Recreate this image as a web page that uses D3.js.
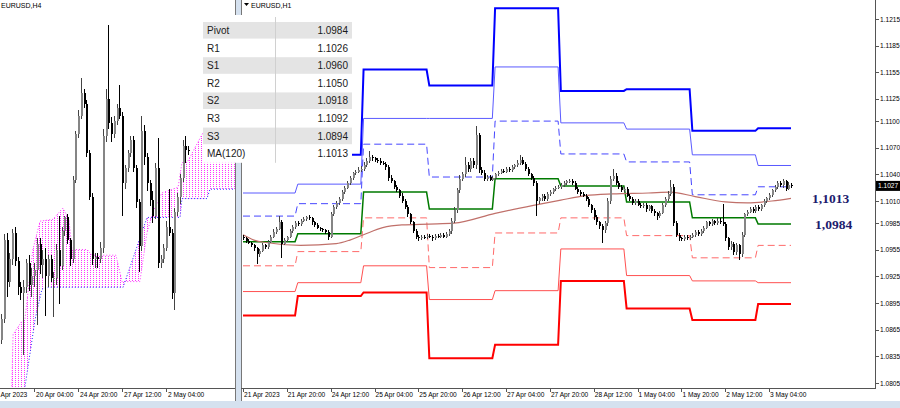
<!DOCTYPE html>
<html>
<head>
<meta charset="utf-8">
<script src="https://cdn.jsdelivr.net/npm/d3@7"></script>
<style>
	body { margin: 0; background: #fff; }
	svg { display: block; font-family: "Liberation Sans", Arial, sans-serif; }
</style>
</head>
<body>
<div id="chart"></div>
<script>
"use strict";

//  H1 closes, one row per trading day (21 Apr 04:00 .. 3 May 12:00)
const h1Close = [
	1.0968,1.0965,1.0963,1.0960,1.0957,1.0950,1.0954,1.0960,1.0958,1.0964,1.0970,1.0975,1.0979,1.0986,1.0962,1.0966,1.0969,1.0976,1.0981,1.0985,
	1.0984,1.0988,1.0990,1.0992,1.0991,1.0986,1.0983,1.0980,1.0978,1.0977,1.0975,1.0970,1.0995,1.1003,1.1008,1.1012,1.1020,1.1025,1.1030,1.1036,1.1041,1.1043,1.1045,1.1046,
	1.1050,1.1055,1.1060,1.1058,1.1056,1.1055,1.1053,1.1052,1.1048,1.1036,1.1032,1.1026,1.1022,1.1016,1.1010,1.1003,1.0995,1.0986,1.0976,1.0970,1.0968,1.0970,1.0969,1.0971,
	1.0970,1.0968,1.0971,1.0970,1.0972,1.0970,1.0973,1.0976,1.0988,1.1000,1.1022,1.1035,1.1040,1.1050,1.1046,1.1055,1.1050,1.1084,1.1045,1.1042,1.1035,1.1037,1.1034,1.1036,
	1.1040,1.1042,1.1044,1.1043,1.1046,1.1045,1.1048,1.1050,1.1053,1.1056,1.1052,1.1046,1.1040,1.1036,1.1030,1.1010,1.1013,1.1016,1.1012,1.1018,1.1020,1.1023,1.1025,1.1026,
	1.1028,1.1030,1.1032,1.1033,1.1030,1.1024,1.1020,1.1018,1.1016,1.1012,1.1005,1.1000,1.0992,1.0986,1.0982,1.0977,1.0985,1.1010,1.1035,1.1038,1.1030,1.1026,1.1022,1.1024,
	1.1016,1.1012,1.1008,1.1010,1.1006,1.1004,1.1006,1.1001,1.1004,1.0999,1.0996,1.0993,1.0997,1.1005,1.1012,1.1018,1.1026,1.0985,1.0972,1.0968,1.0967,1.0970,1.0968,1.0970,
	1.0972,1.0975,1.0973,1.0976,1.0980,1.0986,1.0984,1.0987,1.0985,1.0988,1.0986,1.0984,1.0968,1.0958,1.0962,1.0952,1.0960,1.0950,1.0972,1.0995,1.0998,1.1001,1.0999,1.1003,
	1.1001,1.1005,1.1010,1.1013,1.1017,1.1022,1.1026,1.1030,1.1028,1.1032,1.1024,1.1028,1.1027
];
const h1FirstOpen = 1.0970;
//  wick lengths above / below the body, in pips
const h1Up = [
	2,1,2,1,2,1,2,3,2,2,2,3,2,7,3,2,2,3,2,2,
	3,2,2,1,2,1,2,2,1,2,1,2,3,2,2,2,2,2,3,2,2,2,3,3,
	4,3,6,2,2,2,3,2,2,2,3,2,2,2,3,2,2,2,2,2,2,2,2,2,
	2,2,2,2,2,2,2,3,3,3,3,4,3,10,4,3,3,10,3,3,3,2,2,2,
	2,2,2,2,2,2,2,2,3,6,3,2,2,2,2,2,2,2,2,2,2,2,2,2,
	2,2,2,2,2,2,2,2,2,2,2,2,2,2,2,2,3,3,3,8,3,2,2,2,
	2,2,2,2,2,2,2,2,2,2,2,2,2,3,3,3,8,3,2,2,2,2,2,2,
	2,2,2,2,2,2,2,3,2,3,3,21,2,2,3,2,3,2,3,2,2,2,2,2,
	2,2,2,2,2,2,2,3,3,3,2,3,2
];
const h1Dn = [
	2,2,1,2,3,11,3,2,2,2,1,2,2,2,16,2,2,1,2,2,
	2,2,2,2,2,3,2,2,2,2,2,4,2,2,2,2,2,2,2,2,2,2,2,2,
	2,2,2,3,2,2,2,2,3,3,2,2,2,3,2,2,3,2,2,3,3,2,2,2,
	2,3,2,2,2,2,2,2,3,3,3,3,3,3,3,3,3,4,3,3,3,2,2,2,
	2,2,2,2,2,2,2,2,2,2,2,2,2,2,3,17,3,3,2,2,2,2,2,2,
	2,2,2,2,2,2,2,2,2,2,2,3,3,3,3,14,3,3,3,3,2,2,2,2,
	2,2,2,2,2,2,2,3,2,3,3,4,2,2,2,2,2,3,3,3,2,2,2,2,
	2,2,2,2,2,2,2,2,2,2,2,2,3,3,3,3,3,7,3,2,2,2,2,2,
	2,2,2,2,2,2,2,2,2,3,3,2,2
];

//  daily pivot levels, first H1 bar of each day
const dayStart = [0, 20, 44, 68, 92, 116, 140, 164, 188];
const lastBar = 200;
const r3 = [null,   1.1062, 1.1158, 1.1140, 1.1227, 1.1134, 1.1136, 1.1089, 1.1092];
const r2 = [1.1019, 1.1029, 1.1103, 1.1103, 1.1161, 1.1098, 1.1091, 1.1062, 1.1050];
const r1 = [1.0993, 1.1007, 1.1074, 1.1037, 1.1100, 1.1063, 1.1054, 1.1017, 1.1026];
const pivot = [1.0964, 1.0973, 1.1020, 1.1001, 1.1035, 1.1027, 1.1009, 1.0991, 1.0984];
const s1 = [1.0937, 1.0953, 1.0991, 1.0935, 1.0974, 1.0991, 1.0971, 1.0946, 1.0960];
const s2 = [1.0908, 1.0918, 1.0937, 1.0899, 1.0909, 1.0956, 1.0926, 1.0920, 1.0918];
const s3 = [1.0881, 1.0903, 1.0907, 1.0833, 1.0848, 1.0920, 1.0889, 1.0876, 1.0894];

//  MA(120) read at [bar, price]
const maPoints = [
	[0, 1.0972], [4, 1.0966], [9, 1.0963], [21, 1.0960], [34, 1.0962], [39, 1.0966], [44, 1.0972],
	[51, 1.0980], [58, 1.0983], [68, 1.0984], [77, 1.0985], [92, 1.0996], [106, 1.1005], [116, 1.1011],
	[125, 1.1016], [135, 1.1018], [148, 1.1019], [156, 1.1020], [165, 1.1015], [176, 1.1009],
	[184, 1.1008], [193, 1.1010], [200, 1.1013]
];

const h1Ticks = [
	[0, '21 Apr 2023'], [16, '21 Apr 20:00'], [32, '24 Apr 12:00'], [48, '25 Apr 04:00'], [64, '25 Apr 20:00'],
	[80, '26 Apr 12:00'], [96, '27 Apr 04:00'], [112, '27 Apr 20:00'], [128, '28 Apr 12:00'], [144, '1 May 04:00'],
	[160, '1 May 20:00'], [176, '2 May 12:00'], [192, '3 May 04:00']
];
const priceTicks = [1.0805, 1.0835, 1.0865, 1.0895, 1.0925, 1.0955, 1.0985, 1.1010, 1.1040, 1.1070, 1.1100, 1.1125, 1.1155, 1.1185, 1.1215];
const lastPrice = 1.1027;

//  H4 bars before 21 Apr 04:00 (index 1..18); later bars come from the H1 rows
const h4EarlyOpen  = [1.0927,1.0938,1.0980,1.0958,1.0970,1.0984,1.0969,1.0955,1.0952,1.0955,1.0968,1.0956,1.0961,1.0964,1.0978,1.0967,1.0970,1.0961];
const h4EarlyHigh  = [1.0941,1.0983,1.0984,1.0973,1.0986,1.0987,1.0971,1.0958,1.0959,1.0970,1.0972,1.0965,1.0968,1.0981,1.0981,1.0975,1.0976,1.0972];
const h4EarlyLow   = [1.0925,1.0936,1.0950,1.0955,1.0967,1.0966,1.0951,1.0948,1.0919,1.0952,1.0953,1.0950,1.0955,1.0935,1.0962,1.0960,1.0940,1.0955];
const h4EarlyClose = [1.0938,1.0980,1.0958,1.0970,1.0984,1.0969,1.0955,1.0952,1.0955,1.0968,1.0956,1.0961,1.0964,1.0978,1.0967,1.0970,1.0961,1.0970];
const h4Ticks = [[13, '20 Apr 04:00'], [29, '24 Apr 20:00'], [45, '27 Apr 12:00'], [61, '2 May 04:00']];
const h4FirstLabel = 'Apr 2023';

//  Ichimoku spans on the H4 chart, [bar, price]
const spanA = [
	[4.6, 1.0885], [5.4, 1.0930], [8.6, 1.0937], [9.7, 1.0938], [12.6, 1.0975], [15.2, 1.0990], [19.9, 1.0991],
	[23.5, 1.0997], [25.7, 1.0991], [26.8, 1.0975], [32.3, 1.0975], [34.1, 1.0972], [42.8, 1.0972], [45, 1.0958],
	[51.5, 1.0958], [54.1, 1.0984], [56.3, 1.0995], [59.5, 1.1005], [65.4, 1.1008], [66.8, 1.1021], [69, 1.1022],
	[74.5, 1.1037], [75.5, 1.1028], [76.6, 1.1022], [88, 1.1022]
];
const spanB = [
	[8.6, 1.0885], [9.7, 1.0902], [13.4, 1.0938], [15.9, 1.0954], [17.7, 1.0955], [45.4, 1.0955], [54.1, 1.0992],
	[66.1, 1.0992], [66.8, 1.1002], [75.9, 1.1002], [77, 1.1007], [88, 1.1007]
];

const tableRows = [['Pivot', '1.0984'], ['R1', '1.1026'], ['S1', '1.0960'], ['R2', '1.1050'], ['S2', '1.0918'], ['R3', '1.1092'], ['S3', '1.0894'], ['MA(120)', '1.1013']];
const notes = [['1,1013', 1.1013], ['1,0984', 1.0984]];


const width = 900, height = 408, pip = 0.0001;
const svg = d3.select('#chart').append('svg').attr('width', width).attr('height', height);

const h1 = h1Close.map((c, i) => {
	const o = i ? h1Close[i - 1] : h1FirstOpen;
	return { i, o, c, h: Math.max(o, c) + h1Up[i] * pip, l: Math.min(o, c) - h1Dn[i] * pip };
});

let h4 = h4EarlyClose.map((c, k) => ({ i: k + 1, o: h4EarlyOpen[k], c, h: h4EarlyHigh[k], l: h4EarlyLow[k] }));
d3.groups(h1, d => 19 + Math.floor(d.i / 4)).forEach(([j, bars]) => {
	h4.push({ i: j, o: bars[0].o, c: bars[bars.length - 1].c, h: d3.max(bars, d => d.h), l: d3.min(bars, d => d.l) });
});

//  background frame
svg.append('rect').attr('width', width).attr('height', height).attr('fill', '#fff');
svg.append('rect').attr('x', 236).attr('y', 0).attr('width', 5).attr('height', height).attr('fill', '#d5e1ef');
svg.append('rect').attr('x', 0).attr('y', 401).attr('width', width).attr('height', 7).attr('fill', '#d5e1ef');

const defs = svg.append('defs');
defs.append('clipPath').attr('id', 'clipL').append('rect').attr('x', 0).attr('y', 0).attr('width', 235).attr('height', 388);
defs.append('clipPath').attr('id', 'clipR').append('rect').attr('x', 242).attr('y', 0).attr('width', 633).attr('height', 388);
const hatch = defs.append('pattern').attr('id', 'hatch').attr('patternUnits', 'userSpaceOnUse')
	.attr('width', 3).attr('height', 2);
hatch.append('rect').attr('width', 1).attr('height', 1).attr('fill', '#ff33ff');

function drawCandles(g, data, x, y)
{
	const c = g.selectAll('g.candle').data(data).join('g').classed('candle', true)
		.attr('shape-rendering', 'crispEdges');
	c.append('line')
		.attr('x1', d => Math.round(x(d.i)) + 0.5).attr('x2', d => Math.round(x(d.i)) + 0.5)
		.attr('y1', d => y(d.h)).attr('y2', d => y(d.l))
		.attr('stroke', d => d.c >= d.o ? '#444' : '#000');
	c.append('rect')
		.attr('x', d => Math.round(x(d.i))).attr('width', 2)
		.attr('y', d => y(Math.max(d.o, d.c)))
		.attr('height', d => Math.max(1, Math.abs(y(d.o) - y(d.c))))
		.attr('fill', d => d.c >= d.o ? '#858585' : '#000');
}

//  Left panel (H4)
const xL = d3.scaleLinear().domain([13, 29]).range([34, 78]);
const yL = d3.scaleLinear().domain([1.0944, 1.1094]).range([308, 25]);
const left = svg.append('g').attr('clip-path', 'url(#clipL)');

const cloud = spanA.map(d => [xL(d[0]), yL(d[1])]).concat(spanB.slice().reverse().map(d => [xL(d[0]), yL(d[1])]));
left.append('path').attr('d', 'M' + cloud.join('L') + 'Z').attr('fill', 'url(#hatch)');
const spanLine = d3.line().x(d => xL(d[0])).y(d => yL(d[1]));
left.append('path').attr('d', spanLine(spanA)).attr('fill', 'none').attr('stroke', '#ff33ff').attr('stroke-dasharray', '1,2');
left.append('path').attr('d', spanLine(spanB)).attr('fill', 'none').attr('stroke', '#2020ff').attr('stroke-dasharray', '1,2');
drawCandles(left, h4, xL, yL);

svg.append('text').attr('x', 1).attr('y', 8).attr('font-size', 7).attr('fill', '#000').text('EURUSD,H4');

const axisL = svg.append('g').attr('shape-rendering', 'crispEdges');
axisL.append('line').attr('x1', 0).attr('x2', 236).attr('y1', 388.5).attr('y2', 388.5).attr('stroke', '#555');
axisL.append('line').attr('x1', 235.5).attr('x2', 235.5).attr('y1', 0).attr('y2', 401).attr('stroke', '#777');
axisL.selectAll('line.tick').data(h4Ticks).join('line').classed('tick', true)
	.attr('x1', d => Math.round(xL(d[0])) + 0.5).attr('x2', d => Math.round(xL(d[0])) + 0.5)
	.attr('y1', 388).attr('y2', 392).attr('stroke', '#555');
svg.selectAll('text.tl').data(h4Ticks).join('text').classed('tl', true)
	.attr('x', d => xL(d[0]) + 2).attr('y', 397).attr('font-size', 6.6).attr('fill', '#000').text(d => d[1]);
svg.append('text').attr('x', 0.5).attr('y', 397).attr('font-size', 6.6).attr('fill', '#000').text(h4FirstLabel);

//  Right panel (H1)
const xR = d3.scaleLinear().domain([0, lastBar]).range([243, 791]);
const yR = d3.scaleLinear().domain([1.0805, 1.1215]).range([383, 19]);
const right = svg.append('g').attr('clip-path', 'url(#clipR)');

const levels = [
	{ v: r3, color: '#0000ff', w: 2, dash: null },
	{ v: r2, color: '#5a5aff', w: 1, dash: null },
	{ v: r1, color: '#4646ff', w: 1, dash: '7,4' },
	{ v: s1, color: '#ff6a6a', w: 1, dash: '7,4' },
	{ v: s2, color: '#ff5050', w: 1, dash: null },
	{ v: s3, color: '#ff0000', w: 2, dash: null },
	{ v: pivot, color: '#007a00', w: 1.5, dash: null }
];
const levelLine = d3.line().defined(d => d[1] !== null).x(d => xR(d[0])).y(d => yR(d[1]));
levels.forEach(level => {
	const pts = [];
	dayStart.forEach((s, k) => {
		const e = k + 1 < dayStart.length ? dayStart[k + 1] - 1 : lastBar;
		pts.push([s, level.v[k]], [e, level.v[k]]);
	});
	right.append('path').attr('d', levelLine(pts)).attr('fill', 'none')
		.attr('stroke', level.color).attr('stroke-width', level.w).attr('stroke-dasharray', level.dash);
});

right.append('path').attr('d', d3.line().curve(d3.curveMonotoneX).x(d => xR(d[0])).y(d => yR(d[1]))(maPoints))
	.attr('fill', 'none').attr('stroke', '#c0706a').attr('stroke-width', 1.2);
drawCandles(right, h1, xR, yR);

svg.selectAll('text.note').data(notes).join('text').classed('note', true)
	.attr('x', (d, k) => k ? 815 : 812).attr('y', d => yR(d[1]) + 5)
	.attr('font-family', '"Liberation Serif", "Times New Roman", serif').attr('font-weight', 'bold')
	.attr('font-size', 13.5).attr('fill', '#1c1c6e').text(d => d[0]);

const axisR = svg.append('g').attr('shape-rendering', 'crispEdges');
axisR.append('line').attr('x1', 241.5).attr('x2', 241.5).attr('y1', 0).attr('y2', 401).attr('stroke', '#777');
axisR.append('line').attr('x1', 241).attr('x2', 876).attr('y1', 388.5).attr('y2', 388.5).attr('stroke', '#555');
axisR.append('line').attr('x1', 875.5).attr('x2', 875.5).attr('y1', 0).attr('y2', 389).attr('stroke', '#555');
axisR.selectAll('line.py').data(priceTicks).join('line').classed('py', true)
	.attr('x1', 875).attr('x2', 879).attr('y1', d => Math.round(yR(d)) + 0.5).attr('y2', d => Math.round(yR(d)) + 0.5).attr('stroke', '#555');
svg.selectAll('text.py').data(priceTicks).join('text').classed('py', true)
	.attr('x', 880).attr('y', d => yR(d) + 2.5).attr('font-size', 6.6).attr('fill', '#000').text(d => d.toFixed(4));
axisR.selectAll('line.tx').data(h1Ticks).join('line').classed('tx', true)
	.attr('x1', d => Math.round(xR(d[0])) + 0.5).attr('x2', d => Math.round(xR(d[0])) + 0.5)
	.attr('y1', 388).attr('y2', 392).attr('stroke', '#555');
svg.selectAll('text.tx').data(h1Ticks).join('text').classed('tx', true)
	.attr('x', d => xR(d[0]) + 1).attr('y', 397).attr('font-size', 6.6).attr('fill', '#000').text(d => d[1]);

svg.append('rect').attr('x', 876).attr('y', yR(lastPrice) - 5).attr('width', 24).attr('height', 10).attr('fill', '#000');
svg.append('text').attr('x', 878).attr('y', yR(lastPrice) + 2.5).attr('font-size', 6.6).attr('fill', '#fff').text(lastPrice.toFixed(4));

svg.append('path').attr('d', 'M244,3 L249,3 L246.5,6 Z').attr('fill', '#000');
svg.append('text').attr('x', 251).attr('y', 8).attr('font-size', 7).attr('fill', '#000').text('EURUSD,H1');

//  Pivot table
const tableX = 203, tableW = 149, colX = 275, rowTop = 22, rowH = 17.6;
const table = svg.append('g');
table.append('rect').attr('x', tableX).attr('y', 15).attr('width', tableW).attr('height', rowTop - 15 + rowH * tableRows.length).attr('fill', '#fff');
table.selectAll('rect.row').data(tableRows).join('rect').classed('row', true)
	.attr('x', tableX).attr('y', (d, k) => rowTop + k * rowH).attr('width', tableW).attr('height', rowH - 1)
	.attr('fill', (d, k) => k % 2 ? '#fff' : '#e4e4e4');
table.append('line').attr('x1', colX + 0.5).attr('x2', colX + 0.5).attr('y1', 17).attr('y2', rowTop + rowH * tableRows.length)
	.attr('stroke', '#d0d0d0');
table.selectAll('text.lab').data(tableRows).join('text').classed('lab', true)
	.attr('x', tableX + 4).attr('y', (d, k) => rowTop + k * rowH + 12).attr('font-size', 10).attr('fill', '#1a1a1a').text(d => d[0]);
table.selectAll('text.val').data(tableRows).join('text').classed('val', true)
	.attr('x', tableX + tableW - 4).attr('y', (d, k) => rowTop + k * rowH + 12).attr('text-anchor', 'end')
	.attr('font-size', 10).attr('fill', '#1a1a1a').text(d => d[1]);
</script>
</body>
</html>
